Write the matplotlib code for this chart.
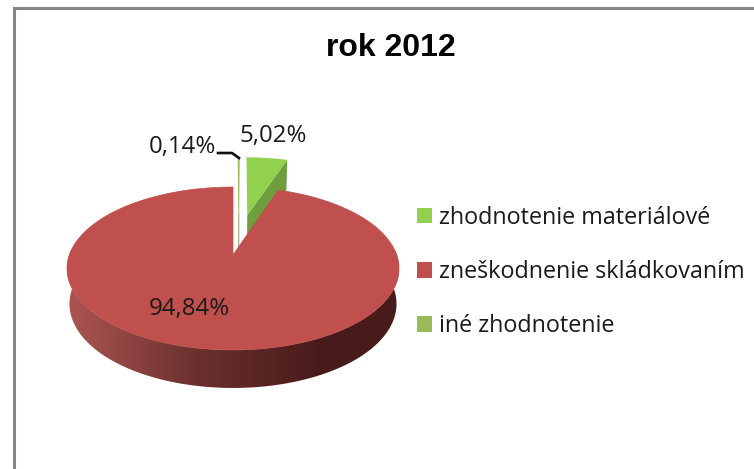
import numpy as np
import matplotlib
matplotlib.use('Agg')
import matplotlib.pyplot as plt
from matplotlib.colors import LinearSegmentedColormap
from matplotlib.patches import Polygon, Patch

# Datos del gráfico (rok 2012)
categorias = ['zhodnotenie materiálové', 'zneškodnenie skládkovaním', 'iné zhodnotenie']
valores = [5.02, 94.84, 0.14]
colores = ['#92d050', '#c0504d', '#9bbb59']
titulo = 'rok 2012'

# Geometría de la torta en perspectiva (en píxeles)
CX, CY = 233, 255
ESCALA_X = 163.7
PERSP = 0.1656
ALTO_V = 37
SEPARA_V = 0.558


def proyectar(u, v, z=0.0):
    """Pasa un punto del disco unidad (u, v) a píxeles; z=1 es la cara inferior."""
    w = 1 + PERSP * v
    x = CX + (1 - 0.015 * z) * ESCALA_X * u / w
    y = (CY - ALTO_V * v) / w + z * (34.8 - 3.2 * v)
    return x, y


def cuna(a0, a1, du=0.0, dv=0.0, z=0.0):
    """Contorno de una porción entre dos ángulos (grados, horario desde arriba)."""
    t = np.radians(np.linspace(a0, a1, 200))
    u = np.r_[0, np.sin(t)] + du
    v = np.r_[0, np.cos(t)] + dv
    return np.column_stack(proyectar(u, v, z))


fig = plt.figure(figsize=(7.54, 4.69), dpi=100)
ax = fig.add_axes([0, 0, 1, 1])

# Marco gris del gráfico (sólo arriba y a la izquierda se ven)
ax.plot([13.5, 13.5, 754], [469, 8.5, 8.5], color='#868686', lw=2.2, solid_joinstyle='miter')

# Ángulos: la porción pequeña y la verde empiezan arriba, el resto es la roja
ang_ine = valores[2] * 3.6
ang_verde = ang_ine + valores[0] * 3.6

# Porción verde separada, con su cara lateral
du = SEPARA_V * np.sin(np.radians(ang_verde / 2 + 0.5))
dv = SEPARA_V * np.cos(np.radians(ang_verde / 2 + 0.5))
ur, vr = np.sin(np.radians(ang_verde)) + du, np.cos(np.radians(ang_verde)) + dv
lado = [proyectar(du, dv), proyectar(ur, vr), proyectar(ur, vr, 1), proyectar(du, dv, 1)]
ax.add_patch(Polygon(lado, closed=True, fc='#6f9e3f', ec='none'))
ax.add_patch(Polygon(cuna(ang_ine, ang_verde, du, dv), closed=True, fc=colores[0], ec='none'))

# Porción mínima, también separada
du2 = SEPARA_V * np.sin(np.radians(4))
dv2 = SEPARA_V * np.cos(np.radians(4))
lado2 = [proyectar(du2, dv2), proyectar(du2, dv2, 1)]
ax.add_patch(Polygon(cuna(0, ang_ine, du2, dv2), closed=True, fc=colores[2], ec=colores[2], lw=0.6))
ax.plot([p[0] for p in lado2], [p[1] for p in lado2], color='#6f8a42', lw=0.6)

# Pared de la porción roja con degradado de izquierda a derecha
t = np.radians(np.linspace(70, 290, 300))
xa, ya = proyectar(np.sin(t), np.cos(t))
xb, yb = proyectar(np.sin(t), np.cos(t), 1)
pared = Polygon(np.column_stack([np.r_[xa, xb[::-1]], np.r_[ya, yb[::-1]]]), closed=True,
                fc='none', ec='none', transform=ax.transData)
ax.add_patch(pared)
mapa = LinearSegmentedColormap.from_list('pared', ['#a85350', '#6a302e', '#481b1a'])
degradado = np.clip((np.arange(60, 410) - 75) / (320 - 75), 0, 1)[None, :]
img = ax.imshow(degradado, cmap=mapa, extent=(60, 410, 400, 250), aspect='auto', vmin=0, vmax=1, zorder=1.5)
img.set_clip_path(pared)

# Cara superior de la roja
ax.add_patch(Polygon(cuna(ang_verde, 360, 0, 0), closed=True, fc=colores[1], ec=colores[1], lw=0.5, zorder=2))

# Línea guía y etiquetas
ax.plot([218, 232, 239], [153, 153, 158], color='#111111', lw=1.9, zorder=3)
etiqueta = lambda n: f'{n:.2f}%'.replace('.', ',')
fuente = 'Open Sans'
ax.text(182, 147.5, etiqueta(valores[2]), ha='center', va='center', family=fuente, fontsize=17.3, color='#1a1a1a', zorder=3)
ax.text(273, 136, etiqueta(valores[0]), ha='center', va='center', family=fuente, fontsize=17.3, color='#1a1a1a', zorder=3)
ax.text(189.5, 308.5, etiqueta(valores[1]), ha='center', va='center', family=fuente, fontsize=17.3, color='#1a1a1a', zorder=3)

ax.text(391, 48, titulo, ha='center', va='center', family='Liberation Sans', weight='bold', fontsize=23, color='black')

# Leyenda
manejadores = [Patch(fc=c, ec='none') for c in colores]
ax.legend(manejadores, categorias, loc='center left', bbox_to_anchor=(417 / 754, 1 - 272 / 469),
          frameon=False, prop={'family': fuente, 'size': 16.8}, handlelength=0.65, handleheight=0.65,
          handletextpad=0.3, labelspacing=1.3, borderpad=0, borderaxespad=0, labelcolor='#1a1a1a')

ax.set_xlim(0, 754)
ax.set_ylim(469, 0)
ax.axis('off')

fig.savefig('out.png', dpi=100)
